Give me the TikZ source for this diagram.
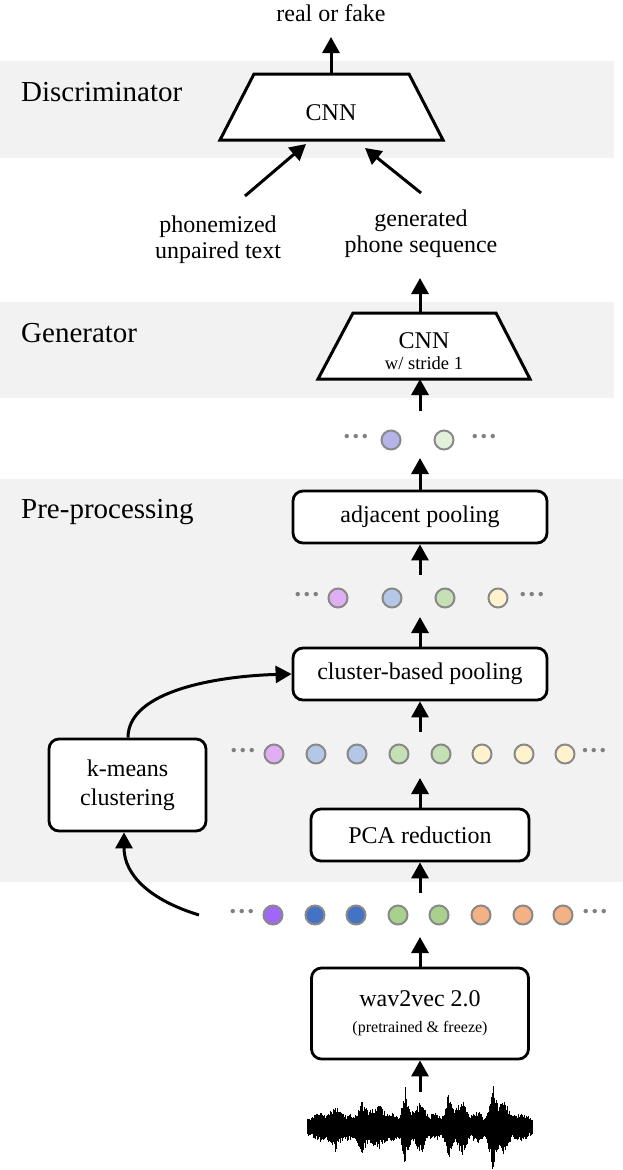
\documentclass[tikz,border=0pt]{standalone}
\usepackage{fontspec}
\setmainfont{Liberation Serif}
\usetikzlibrary{arrows.meta}
\definecolor{band}{HTML}{F2F2F2}
\definecolor{ring}{HTML}{898989}
\definecolor{dotgray}{HTML}{7F7F7F}
\definecolor{cLav}{HTML}{B4B4EA}
\definecolor{cMint}{HTML}{E2EFDA}
\definecolor{cPink}{HTML}{DFAEF3}
\definecolor{cLBlue}{HTML}{B4C7E7}
\definecolor{cLGreen}{HTML}{C5E0B4}
\definecolor{cLYellow}{HTML}{FFF2CC}
\definecolor{cPurple}{HTML}{A066F5}
\definecolor{cBlue}{HTML}{4472C4}
\definecolor{cGreen}{HTML}{A9D18E}
\definecolor{cOrange}{HTML}{F4B183}
\tikzset{
  arr/.style={line width=3pt, -{Triangle[length=16pt,width=17pt]}},
  procbox/.style={draw, line width=2.8pt, rounded corners=10pt, fill=white,
    align=center, inner sep=0pt, font=\fontsize{24}{29}\selectfont},
  trapline/.style={draw, line width=3pt, fill=white, line join=miter},
  feat/.style={circle, draw=ring, line width=2pt, minimum size=19pt, inner sep=0pt},
  ell/.style={text=dotgray, inner sep=0pt, font=\bfseries\fontsize{27}{27}\selectfont},
  sect/.style={anchor=base west, inner sep=0pt, font=\fontsize{29}{34}\selectfont},
  lbl/.style={align=center, inner sep=0pt, font=\fontsize{24}{26}\selectfont},
}
\begin{document}
\begin{tikzpicture}[x=1pt,y=-1pt]
\useasboundingbox (0,0) rectangle (623,1170);
% bands
\fill[band] (0,61) rectangle (614,158);
\fill[band] (0,302) rectangle (614,398);
\fill[band] (0,479) rectangle (623,882);
% section labels
\node[sect] (lD) at (21,101) {Discriminator};
\node[sect] (lG) at (21,342) {Generator};
\node[sect] (lP) at (21,518) {Pre-processing};
% discriminator trapezoid
\path[trapline] (220,140) -- (254,74) -- (409,74) -- (443,140) -- cycle;
\node[inner sep=0pt, anchor=base, font=\fontsize{24}{24}\selectfont] (disc) at (331,120) {CNN};
\coordinate (dtop) at (331,74);
\coordinate (dout) at (331,37);
\coordinate (dinL) at (306,144);
\coordinate (dinR) at (365,148);
\node[inner sep=0pt, anchor=base, font=\fontsize{24}{24}\selectfont] (rf) at (331,21) {real or fake};
\draw[arr] (dtop) -- (dout);
% input labels
\node[lbl] (txt) at (218,240) {phonemized\\unpaired text};
\node[lbl] (gps) at (421,234) {generated\\phone sequence};
\coordinate (sL) at (245,196);
\coordinate (sR) at (421,193);
\draw[arr] (sL) -- (dinL);
\draw[arr] (sR) -- (dinR);
% generator trapezoid
\path[trapline] (318,379) -- (353,313) -- (496,313) -- (530,379) -- cycle;
\node[inner sep=0pt, anchor=base, font=\fontsize{24}{24}\selectfont] (gen) at (424,348) {CNN};
\node[inner sep=0pt, anchor=base, font=\fontsize{18.5}{18.5}\selectfont] (gens) at (424,369) {w/ stride 1};
\coordinate (gtop) at (420,313);
\coordinate (gout) at (420,278);
\coordinate (gbot) at (420,379);
\coordinate (r1up) at (420,411);
\draw[arr] (gtop) -- (gout);
\draw[arr] (r1up) -- (gbot);
% row 1
\node[ell] (r1a) at (356,440) {···};
\node[feat, fill=cLav] (r1c1) at (391,440) {};
\node[feat, fill=cMint] (r1c2) at (444,440) {};
\node[ell] (r1b) at (484,440) {···};
% adjacent pooling
\node[procbox, minimum width=254pt, minimum height=52pt] (adj) at (420,517) {adjacent pooling};
\coordinate (adjout) at (420,458);
\coordinate (r2up) at (420,575);
\draw[arr] (adj.north) -- (adjout);
\draw[arr] (r2up) -- (adj.south);
% row 2
\node[ell] (r2a) at (307,598) {···};
\foreach \xx/\cc [count=\k] in {338/cPink,392/cLBlue,445/cLGreen,498/cLYellow}
  \node[feat, fill=\cc] (r2c\k) at (\xx,598) {};
\node[ell] (r2b) at (532,598) {···};
% cluster-based pooling
\node[procbox, minimum width=254pt, minimum height=52pt] (cbp) at (420,674) {cluster-based pooling};
\coordinate (cbpout) at (420,617);
\coordinate (r3up) at (420,732);
\draw[arr] (cbp.north) -- (cbpout);
\draw[arr] (r3up) -- (cbp.south);
% row 3
\node[ell] (r3a) at (243,754) {···};
\foreach \xx/\cc [count=\k] in {274/cPink,316/cLBlue,357/cLBlue,399/cLGreen,441/cLGreen,482/cLYellow,524/cLYellow,565/cLYellow}
  \node[feat, fill=\cc] (r3c\k) at (\xx,754) {};
\node[ell] (r3b) at (594,754) {···};
% PCA
\node[procbox, minimum width=218pt, minimum height=52pt] (pca) at (420,835) {PCA reduction};
\coordinate (pcaout) at (420,778);
\coordinate (r4up) at (420,893);
\draw[arr] (pca.north) -- (pcaout);
\draw[arr] (r4up) -- (pca.south);
% row 4
\node[ell] (r4a) at (242,915) {···};
\foreach \xx/\cc [count=\k] in {273/cPurple,315/cBlue,356/cBlue,398/cGreen,439/cGreen,481/cOrange,523/cOrange,563/cOrange}
  \node[feat, fill=\cc] (r4c\k) at (\xx,915) {};
\node[ell] (r4b) at (595,915) {···};
% k-means
\node[procbox, minimum width=157pt, minimum height=92pt] (km) at (127.5,785) {k-means\\clustering};
\coordinate (kmin) at (199,915);
\draw[arr] (kmin) .. controls (150,900) and (124,875) .. (km.south -| 124,0);
\draw[arr] (km.north -| 128,0) .. controls (128,690) and (220,676) .. (cbp.west);
% wav2vec
\node[procbox, minimum width=217pt, minimum height=91pt] (w2v) at (420,1013.5) {\rule{0pt}{14pt}wav2vec 2.0\\[-3pt]{\fontsize{16}{18}\selectfont (pretrained \& freeze)}};
\coordinate (w2vout) at (420,937);
\draw[arr] (w2v.north) -- (w2vout);
% waveform
\pgfmathsetseed{7}
\foreach \i in {0,...,450}{
  \pgfmathsetmacro{\xx}{307+\i*0.5}
  \pgfmathsetmacro{\env}{9
   +6*max(0,1-abs(\xx-320)/12)
   +16*max(0,1-abs(\xx-335)/9)
   +6*max(0,1-abs(\xx-348)/10)
   +18*max(0,1-abs(\xx-362)/8)
   +10*max(0,1-abs(\xx-372)/8)
   +14*max(0,1-abs(\xx-380)/8)
   +6*max(0,1-abs(\xx-392)/10)
   +30*max(0,1-abs(\xx-405)/6)
   +10*max(0,1-abs(\xx-412)/8)
   +20*max(0,1-abs(\xx-421)/7)
   +6*max(0,1-abs(\xx-434)/10)
   +24*max(0,1-abs(\xx-448)/6)
   +10*max(0,1-abs(\xx-456)/8)
   +20*max(0,1-abs(\xx-463)/7)
   +8*max(0,1-abs(\xx-477)/10)
   +32*max(0,1-abs(\xx-492)/6)
   +14*max(0,1-abs(\xx-498)/8)
   +18*max(0,1-abs(\xx-505)/7)
   +6*max(0,1-abs(\xx-520)/12)}
  \pgfmathsetmacro{\up}{\env*(0.55+0.45*rnd)}
  \pgfmathsetmacro{\dn}{\env*(0.55+0.45*rnd)}
  \draw[line width=0.7pt] (\xx,{1127-\up}) -- (\xx,{1127+\dn});
}
\coordinate (wave) at (420,1092);
\draw[arr] (wave) -- (w2v.south);
\end{tikzpicture}
\end{document}
